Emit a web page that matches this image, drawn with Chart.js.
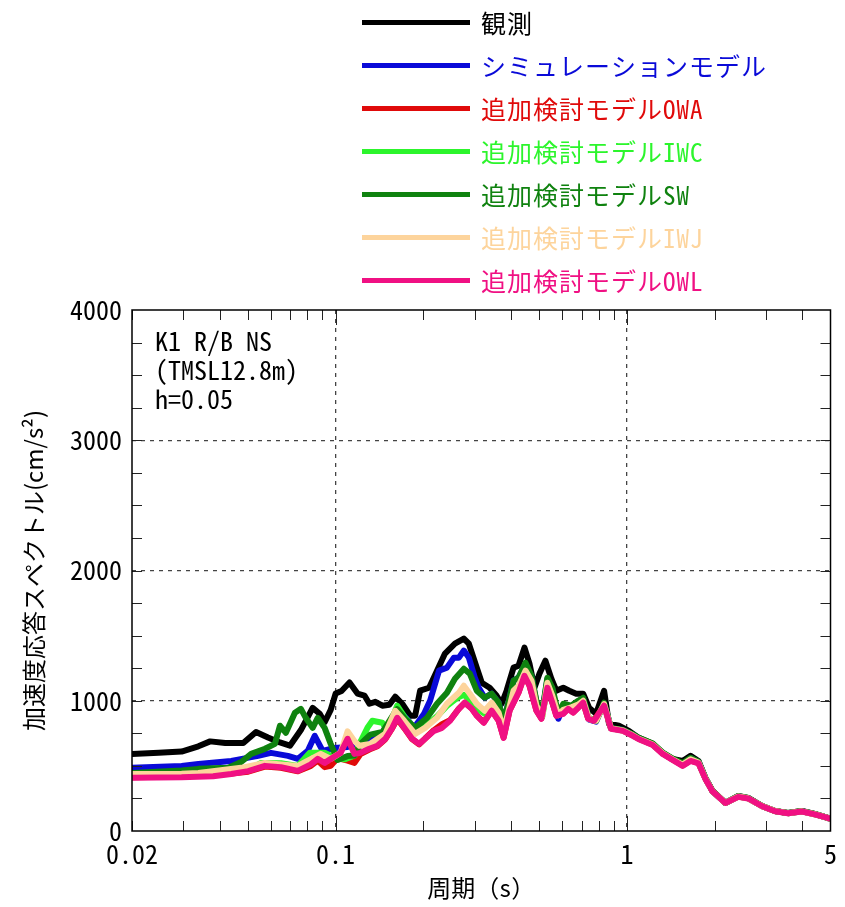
<!DOCTYPE html>
<html>
<head>
<meta charset="utf-8">
<script src="https://cdn.jsdelivr.net/npm/chart.js@4.4.1/dist/chart.umd.min.js"></script>
<style>
  html, body { margin: 0; padding: 0; background: #fff; }
  #wrap { position: relative; width: 845px; height: 907px; overflow: hidden; }
  canvas { position: absolute; left: 0; top: 0; }
  .lg-line { position: absolute; left: 362px; width: 108px; height: 5px; }
  .lg-text { position: absolute; left: 481px; font-family: "Noto Sans Mono CJK JP", "Noto Sans CJK JP", monospace; font-size: 25px; line-height: 30px; letter-spacing: 1px; white-space: nowrap; }
  .note { position: absolute; left: 155px; font-family: "Noto Sans Mono CJK JP", "Noto Sans CJK JP", monospace; font-size: 26px; line-height: 29px; color: #000; white-space: nowrap; }
</style>
</head>
<body>
<div id="wrap">
  <canvas id="c" width="845" height="907"></canvas>
  <div id="legend"></div>
  <div class="note" style="top:325px">K1 R/B NS</div>
  <div class="note" style="top:354px">(TMSL12.8m)</div>
  <div class="note" style="top:383px">h=0.05</div>
</div>
<script>
// ---- data (period [s], acceleration response spectrum [cm/s^2]) ----
const seriesNames = ['観測', 'シミュレーションモデル', '追加検討モデルOWA', '追加検討モデルIWC', '追加検討モデルSW', '追加検討モデルIWJ', '追加検討モデルOWL'];
const seriesColors = ['#000000', '#0a0ad8', '#e00a0a', '#2cf52c', '#0f820f', '#fdd49c', '#f01083'];

const obsPeriod = [0.02,0.0247,0.0296,0.0338,0.0371,0.0418,0.0482,0.0533,0.0586,0.0644,0.0697,0.076,0.0834,0.0882,0.0917,0.0962,0.1,0.1048,0.1116,0.1189,0.1256,0.1306,0.1369,0.1447,0.1529,0.1602,0.1693,0.1803,0.1875,0.195,0.2094,0.2229,0.2374,0.2568,0.2756,0.2867,0.3052,0.3175,0.338,0.3572,0.3715,0.3864,0.4082,0.4246,0.445,0.463,0.4815,0.5008,0.525,0.5504,0.5723,0.6046,0.634,0.6698,0.7077,0.7415,0.784,0.835,0.868,0.939,1.016,1.099,1.227,1.327,1.435,1.553,1.654,1.761,1.86,1.966,2.178,2.412,2.609,2.913,3.225,3.572,3.988,4.415,4.892,5.0];
const obsValue = [592,600,610,650,688,675,675,760,718,680,655,775,945,900,835,930,1055,1075,1140,1055,1040,977,992,962,969,1031,977,885,885,1077,1100,1231,1362,1438,1477,1438,1254,1138,1100,1038,977,1077,1254,1269,1408,1285,1100,1208,1308,1169,1077,1100,1077,1054,1054,946,900,1077,823,808,769,715,669,600,554,538,577,538,408,308,215,269,254,192,154,138,154,131,100,95];

const simPeriod = [0.02,0.0296,0.0338,0.0438,0.0542,0.06,0.0686,0.0742,0.0802,0.0848,0.0903,0.0992,0.1099,0.1217,0.1316,0.1447,0.1565,0.1653,0.1761,0.186,0.2012,0.211,0.2265,0.2411,0.2547,0.265,0.2756,0.2867,0.3005,0.3101,0.325,0.3434,0.3629,0.3774,0.4082,0.4246,0.4486,0.4704,0.4891,0.5128,0.5333,0.5546,0.5814,0.6046,0.644,0.6803,0.7077,0.7415,0.784,0.835,0.8817,0.969,1.048,1.099,1.227,1.327,1.435,1.553,1.654,1.761,1.86,1.966,2.178,2.412,2.609,2.913,3.225,3.572,3.988,4.415,4.892,5.0];
const simValue = [485,500,515,538,577,600,577,554,615,731,615,638,645,680,715,754,869,923,860,792,900,1000,1231,1254,1331,1331,1385,1331,1177,1100,1023,1054,985,831,1154,1177,1280,1185,990,915,1165,1090,862,950,955,995,1015,855,840,980,790,775,740,712,665,597,550,515,560,530,405,306,215,266,252,191,153,137,152,130,100,95];

const owaPeriod = [0.02,0.0296,0.038,0.0438,0.0501,0.0572,0.0649,0.0742,0.0822,0.0868,0.0917,0.0962,0.1016,0.1099,0.1161,0.1217,0.1306,0.1391,0.1481,0.1565,0.1627,0.172,0.1831,0.1935,0.2028,0.2177,0.2319,0.247,0.265,0.2778,0.2935,0.3052,0.3225,0.3434,0.3629,0.3774,0.3956,0.4246,0.445,0.463,0.4891,0.5087,0.5333,0.5546,0.5723,0.6046,0.629,0.6541,0.6803,0.7077,0.736,0.771,0.835,0.8817,0.969,1.048,1.099,1.227,1.327,1.435,1.553,1.654,1.761,1.86,1.966,2.178,2.412,2.609,2.913,3.225,3.572,3.988,4.415,4.892,5.0];
const owaValue = [412,418,432,442,455,495,485,458,500,540,490,500,560,540,523,590,625,650,705,790,860,790,705,665,710,775,820,850,940,985,940,888,834,926,849,718,926,1065,1195,1118,926,865,1103,988,888,903,941,911,949,988,865,849,965,788,772,734,708,663,595,549,503,541,523,402,307,216,264,251,191,153,137,151,129,100,95];

const iwcPeriod = [0.02,0.0296,0.0396,0.0501,0.0555,0.0649,0.0742,0.0815,0.0917,0.0992,0.1073,0.1161,0.1207,0.1286,0.1337,0.1447,0.1505,0.1627,0.1734,0.1875,0.2028,0.2229,0.2411,0.2609,0.2756,0.2889,0.3052,0.325,0.3434,0.3629,0.3774,0.4082,0.4246,0.4486,0.4704,0.4891,0.5128,0.5333,0.5546,0.5814,0.6046,0.644,0.6803,0.7077,0.7415,0.784,0.835,0.8817,0.969,1.048,1.099,1.227,1.327,1.435,1.553,1.654,1.761,1.86,1.966,2.178,2.412,2.609,2.913,3.225,3.572,3.988,4.415,4.892,5.0];
const iwcValue = [430,438,450,470,523,520,500,600,600,565,550,580,669,792,846,831,769,962,869,785,800,880,960,1020,1045,1010,940,900,960,890,750,1060,1090,1210,1140,950,880,1120,1010,890,920,945,960,990,860,846,975,790,772,735,708,664,596,549,508,548,525,403,306,215,264,251,191,153,137,151,129,100,95];

const swPeriod = [0.02,0.0296,0.0338,0.0428,0.0474,0.0513,0.0572,0.0619,0.0644,0.0675,0.0725,0.076,0.079,0.0834,0.0868,0.0917,0.0962,0.1016,0.1099,0.1161,0.1217,0.1316,0.1447,0.1565,0.1627,0.1734,0.1875,0.2061,0.2229,0.2411,0.2568,0.2756,0.2889,0.3052,0.325,0.3434,0.3629,0.3774,0.4082,0.4246,0.4486,0.4704,0.4891,0.5128,0.5333,0.5546,0.5814,0.6046,0.644,0.6803,0.7077,0.7415,0.784,0.835,0.8817,0.969,1.048,1.099,1.227,1.327,1.435,1.553,1.654,1.761,1.86,1.966,2.178,2.412,2.609,2.913,3.225,3.572,3.988,4.415,4.892,5.0];
const swValue = [446,465,477,485,530,592,631,669,808,754,908,938,869,792,869,792,669,545,575,580,669,740,760,880,935,860,792,869,977,1062,1169,1246,1208,1077,1023,1054,985,831,1154,1177,1292,1192,1000,923,1177,1100,900,977,962,1000,1023,862,846,985,792,775,742,716,672,603,556,520,562,532,408,309,217,268,254,192,154,138,153,131,101,96];

const iwjPeriod = [0.02,0.0296,0.0338,0.0474,0.0572,0.0742,0.0889,0.0962,0.104,0.1099,0.1161,0.1207,0.1316,0.1481,0.1602,0.172,0.1875,0.2028,0.2229,0.2411,0.265,0.2756,0.2889,0.3052,0.325,0.3434,0.3629,0.3774,0.4082,0.4246,0.4486,0.4704,0.4891,0.5128,0.5333,0.5546,0.5814,0.6046,0.644,0.6803,0.7077,0.7415,0.784,0.835,0.8817,0.969,1.048,1.099,1.227,1.327,1.435,1.553,1.654,1.761,1.86,1.966,2.178,2.412,2.609,2.913,3.225,3.572,3.988,4.415,4.892,5.0];
const iwjValue = [438,440,446,485,523,500,592,554,600,765,690,654,669,746,923,846,746,792,869,977,1062,1115,1054,977,923,985,908,769,1077,1115,1231,1154,962,885,1138,1040,890,930,950,970,1000,860,846,975,790,772,735,708,664,597,550,510,550,526,404,306,215,265,251,191,153,137,151,129,100,95];

const owlPeriod = [0.02,0.0296,0.038,0.0438,0.0501,0.0572,0.0649,0.0742,0.0822,0.0868,0.0917,0.0992,0.104,0.1099,0.1161,0.1217,0.1306,0.1391,0.1481,0.1565,0.1627,0.172,0.1831,0.1935,0.2028,0.2177,0.2319,0.247,0.265,0.2778,0.2935,0.3052,0.3225,0.3434,0.3629,0.3774,0.3956,0.4246,0.445,0.463,0.4891,0.5087,0.5333,0.5546,0.5723,0.6046,0.629,0.6541,0.6803,0.7077,0.736,0.771,0.835,0.8817,0.969,1.048,1.099,1.227,1.327,1.435,1.553,1.654,1.761,1.86,1.966,2.178,2.412,2.609,2.913,3.225,3.572,3.988,4.415,4.892,5.0];
const owlValue = [408,412,420,438,460,500,490,462,512,554,523,572,600,708,592,600,631,654,708,792,869,792,708,669,708,769,792,846,938,985,938,885,831,923,846,715,923,1062,1192,1115,923,862,1100,985,885,900,938,908,946,985,862,846,962,785,769,731,705,660,592,546,500,538,520,400,305,215,262,250,190,152,136,150,128,100,95];

// ---- axis ticks ----
const xTickValues = [0.02,0.03,0.04,0.05,0.06,0.07,0.08,0.09,0.1,0.2,0.3,0.4,0.5,0.6,0.7,0.8,0.9,1,2,3,4,5];
const xLabelValues = [0.02,0.1,1,5];
const xGridValues = [0.1,1];
const yMin = 0, yMax = 4000, yMinorStep = 250, yLabelStep = 1000;
const yGridValues = [1000,2000,3000];

const periods = [obsPeriod, simPeriod, owaPeriod, iwcPeriod, swPeriod, iwjPeriod, owlPeriod];
const values = [obsValue, simValue, owaValue, iwcValue, swValue, iwjValue, owlValue];

// ---- legend (HTML) ----
const legendEl = document.getElementById('legend');
seriesNames.forEach((name, i) => {
  const cy = 22 + i * 43;
  const ln = document.createElement('div');
  ln.className = 'lg-line';
  ln.style.top = (cy - 2.5) + 'px';
  ln.style.background = seriesColors[i];
  legendEl.appendChild(ln);
  const tx = document.createElement('div');
  tx.className = 'lg-text';
  tx.style.top = (cy - 15) + 'px';
  tx.style.color = seriesColors[i];
  tx.textContent = name;
  legendEl.appendChild(tx);
});

const tickFont = { family: "'Noto Sans Mono CJK JP', 'Noto Sans CJK JP', monospace", size: 26 };

const frameTicks = {
  id: 'frameTicks',
  afterDraw(chart) {
    const { ctx, chartArea: a, scales: { x, y } } = chart;
    ctx.save();
    ctx.strokeStyle = '#222';
    ctx.lineWidth = 1;
    ctx.beginPath();
    xTickValues.forEach(v => {
      const px = Math.round(x.getPixelForValue(v)) + 0.5;
      const len = xGridValues.includes(v) ? 15 : 10;
      ctx.moveTo(px, a.bottom); ctx.lineTo(px, a.bottom - len);
      ctx.moveTo(px, a.top); ctx.lineTo(px, a.top + len);
    });
    for (let v = yMin + yMinorStep; v < yMax; v += yMinorStep) {
      const py = Math.round(y.getPixelForValue(v)) + 0.5;
      ctx.moveTo(a.left, py); ctx.lineTo(a.left + 10, py);
      ctx.moveTo(a.right, py); ctx.lineTo(a.right - 10, py);
    }
    ctx.stroke();
    ctx.strokeStyle = '#000';
    ctx.lineWidth = 1.5;
    ctx.strokeRect(a.left, a.top, a.right - a.left, a.bottom - a.top);
    ctx.restore();
  }
};

new Chart(document.getElementById('c'), {
  type: 'line',
  data: {
    datasets: seriesNames.map((name, i) => ({
      label: name,
      data: periods[i].map((t, k) => ({ x: t, y: values[i][k] })),
      borderColor: seriesColors[i],
      backgroundColor: seriesColors[i],
      borderWidth: 6,
      pointRadius: 0,
      tension: 0,
      fill: false,
      borderJoinStyle: 'round',
      borderCapStyle: 'round',
      order: seriesNames.length - 1 - i
    }))
  },
  options: {
    responsive: false,
    animation: false,
    devicePixelRatio: 1,
    layout: { padding: { left: 0, right: 8, top: 310, bottom: 0 } },
    plugins: { legend: { display: false }, tooltip: { enabled: false }, title: { display: false } },
    scales: {
      x: {
        type: 'logarithmic',
        min: 0.02, max: 5,
        afterBuildTicks: s => { s.ticks = xTickValues.map(v => ({ value: v })); },
        afterFit: s => { s.height = 76; },
        ticks: {
          autoSkip: false, maxRotation: 0, minRotation: 0, padding: 8,
          color: '#000', font: tickFont,
          callback: v => xLabelValues.includes(v) ? String(v) : ''
        },
        grid: {
          drawTicks: false,
          lineWidth: 1.3,
          color: c => (c.tick && xGridValues.includes(c.tick.value)) ? '#444' : 'rgba(0,0,0,0)'
        },
        border: { display: false, dash: [4, 5] },
        title: {
          display: true, text: '周期（s）', color: '#000',
          font: { family: "'Noto Sans Mono CJK JP', 'Noto Sans CJK JP', sans-serif", size: 24 },
          padding: { top: 0, bottom: 5 }
        }
      },
      y: {
        type: 'linear',
        min: yMin, max: yMax,
        afterFit: s => { s.width = 132; },
        ticks: {
          stepSize: yMinorStep, autoSkip: false, padding: 10,
          color: '#000', font: tickFont,
          callback: v => (v % yLabelStep === 0) ? String(v) : ''
        },
        grid: {
          drawTicks: false,
          lineWidth: 1.3,
          color: c => (c.tick && yGridValues.includes(c.tick.value)) ? '#444' : 'rgba(0,0,0,0)'
        },
        border: { display: false, dash: [4, 5] },
        title: {
          display: true, text: '加速度応答スペクトル(cm/s²)', color: '#000',
          font: { family: "'Noto Sans CJK JP', sans-serif", size: 24 },
          padding: { top: 19, bottom: 0 }
        }
      }
    }
  },
  plugins: [frameTicks]
});
</script>
</body>
</html>
